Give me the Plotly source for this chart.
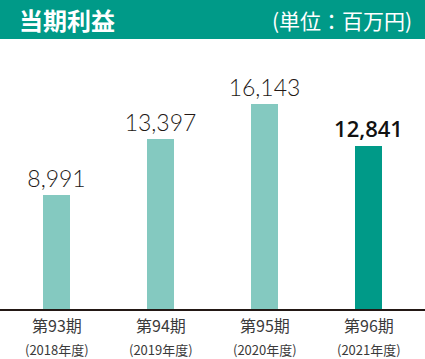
import plotly.graph_objects as go

periods = ["第93期", "第94期", "第95期", "第96期"]
years = ["(2018年度)", "(2019年度)", "(2020年度)", "(2021年度)"]
profits = [8991, 13397, 16143, 12841]
value_labels = ["8,991", "13,397", "16,143", "12,841"]
bar_colors = ["#84C9C0", "#84C9C0", "#84C9C0", "#009A88"]

W, H = 425, 359
PH = 269  # plot height in px
x_idx = list(range(len(periods)))

fig = go.Figure()
fig.add_trace(go.Bar(
    x=x_idx, y=profits, marker=dict(color=bar_colors, line=dict(width=0)),
    width=0.26,
    text=value_labels, textposition="outside", cliponaxis=False,
    constraintext="none",
    textfont=dict(family=["Lato", "Lato", "Lato", "Open Sans"], size=[23, 23, 23, 22],
                  color=["#231815", "#231815", "#231815", "#111111"],
                  weight=[300, 300, 300, 600]),
    hoverinfo="skip",
))

annotations = []
for i, (p, yr) in enumerate(zip(periods, years)):
    annotations.append(dict(x=i, xref="x", y=-(325 - 309) / PH, yref="paper",
                            text=p, showarrow=False, yanchor="middle",
                            font=dict(family="Noto Sans CJK JP", size=16, color="#3a3a3a")))
    annotations.append(dict(x=i, xref="x", y=-(349 - 309) / PH, yref="paper",
                            text=yr, showarrow=False, yanchor="middle",
                            font=dict(family="Noto Sans CJK JP", size=13, color="#3a3a3a")))

# header
annotations.append(dict(x=17 / W, xref="paper", y=1 + (40 - 20) / PH, yref="paper",
                        xanchor="left", yanchor="middle", showarrow=False,
                        text="<b>当期利益</b>",
                        font=dict(family="Noto Sans CJK JP", size=24, color="white")))
annotations.append(dict(x=414 / W, xref="paper", y=1 + (40 - 20) / PH, yref="paper",
                        xanchor="right", yanchor="middle", showarrow=False,
                        text="(単位：百万円)",
                        font=dict(family="Noto Sans CJK JP", size=21, color="white")))

fig.update_layout(
    width=W, height=H,
    margin=dict(l=0, r=0, t=40, b=50),
    paper_bgcolor="white", plot_bgcolor="white",
    showlegend=False,
    bargap=0,
    xaxis=dict(range=[-56.5 / 104, -56.5 / 104 + W / 104], showticklabels=False,
               showgrid=False, zeroline=False, showline=True, linecolor="#231815",
               linewidth=2, ticks="", fixedrange=True),
    yaxis=dict(range=[0, PH / 0.01272], visible=False, fixedrange=True),
    shapes=[dict(type="rect", xref="paper", yref="paper", x0=0, x1=1,
                 y0=1 + (40 - 39) / PH, y1=1 + 40 / PH,
                 fillcolor="#009A88", line=dict(width=0), layer="below")],
    annotations=annotations,
)

fig.write_html("out.html", config={"displayModeBar": False},
               post_script="document.body.style.margin='0';document.body.style.overflow='hidden';")
